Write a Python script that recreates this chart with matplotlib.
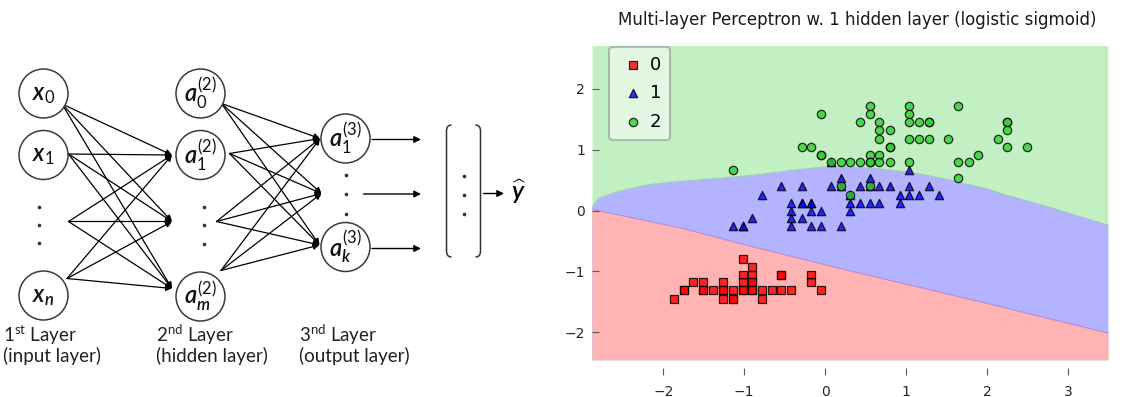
import numpy as np
import matplotlib

matplotlib.use("Agg")
import matplotlib.pyplot as plt
from matplotlib import font_manager as fm
from matplotlib.patches import Circle, PathPatch
from matplotlib.path import Path

W, H = 1126, 397


def pick_italic_family():
    """First humanist sans that actually ships an italic face."""
    for fam in ["Lato", "Open Sans", "Noto Sans", "Roboto", "Liberation Sans", "DejaVu Sans"]:
        try:
            path = fm.findfont(fm.FontProperties(family=fam, style="italic"),
                               fallback_to_default=False)
        except ValueError:
            continue
        name = path.lower()
        if "italic" in name or "oblique" in name:
            return fam
    return "DejaVu Sans"


ITALIC_FAMILY = pick_italic_family()
plt.rcParams["mathtext.fontset"] = "custom"
plt.rcParams["mathtext.it"] = f"{ITALIC_FAMILY}:italic:semibold"
plt.rcParams["mathtext.rm"] = "Lato"
plt.rcParams["mathtext.bf"] = "Lato:bold"

# --- decision-region data (standardised sepal length / petal width) ---
CLASS_LABELS = ["0", "1", "2"]

SETOSA_X = [-1.87, -1.75, -1.75, -1.63, -1.51, -1.51, -1.51, -1.39,
            -1.26, -1.26, -1.26, -1.26, -1.14, -1.14, -1.14,
            -1.02, -1.02, -1.02, -1.02, -1.02,
            -0.90, -0.90, -0.90, -0.90, -0.90, -0.90,
            -0.78, -0.78, -0.66, -0.54, -0.54, -0.54, -0.42, -0.17, -0.17, -0.05]
SETOSA_Y = [-1.45, -1.31, -1.31, -1.18, -1.18, -1.31, -1.31, -1.31,
            -1.18, -1.31, -1.31, -1.45, -1.31, -1.45, -1.45,
            -0.79, -1.05, -1.18, -1.31, -1.31,
            -0.92, -1.05, -1.18, -1.18, -1.31, -1.31,
            -1.31, -1.45, -1.31, -1.05, -1.05, -1.31, -1.31, -1.05, -1.18, -1.31]

VERSICOLOR_X = [-1.14, -1.02, -1.02, -0.90, -0.78, -0.54,
                -0.42, -0.42, -0.42, -0.42,
                -0.29, -0.29, -0.29, -0.29,
                -0.17, -0.17, -0.17, -0.17,
                -0.05, -0.05, 0.07, 0.07,
                0.19, 0.19, 0.19, 0.31, 0.31, 0.31,
                0.43, 0.43, 0.55, 0.55, 0.55, 0.67, 0.67,
                0.80, 0.92, 0.92, 1.04, 1.04, 1.04, 1.16, 1.28, 1.40]
VERSICOLOR_Y = [-0.26, -0.26, -0.26, -0.13, 0.26, 0.40,
                0.13, 0.00, -0.13, -0.26,
                0.40, 0.13, 0.13, -0.13,
                0.13, 0.13, 0.00, -0.26,
                0.00, -0.26, 0.40, 0.79,
                0.53, 0.40, -0.26, 0.26, 0.13, 0.00,
                0.40, 0.13, 0.53, 0.40, 0.13, 0.40, 0.13,
                0.40, 0.26, 0.13, 0.66, 0.40, 0.26, 0.26, 0.40, 0.26]

VIRGINICA_X = [-1.14, -0.29, -0.17, -0.05, -0.05, -0.05,
               0.07, 0.19, 0.19, 0.31, 0.31, 0.43, 0.43,
               0.55, 0.55, 0.55, 0.55, 0.55, 0.55,
               0.67, 0.67, 0.67, 0.67, 0.67,
               0.80, 0.80, 0.80, 0.80,
               1.04, 1.04, 1.04, 1.04, 1.04,
               1.16, 1.16, 1.28, 1.28, 1.28, 1.52,
               1.64, 1.64, 1.64, 1.77, 1.89, 2.13,
               2.25, 2.25, 2.25, 2.25, 2.49]
VIRGINICA_Y = [0.66, 1.05, 1.05, 1.58, 0.92, 0.92,
               0.79, 0.79, 0.40, 0.79, 0.26, 1.45, 0.79,
               1.71, 1.58, 0.92, 0.79, 0.79, 0.40,
               1.45, 1.32, 1.18, 0.92, 0.79,
               1.32, 1.05, 1.05, 0.79,
               1.71, 1.58, 1.45, 1.18, 0.79,
               1.45, 1.18, 1.45, 1.45, 1.18, 1.18,
               1.71, 0.79, 0.53, 0.79, 0.92, 1.18,
               1.45, 1.45, 1.32, 1.05, 1.05]

# class boundaries of the fitted MLP, sampled along x
RED_BLUE_X = [-2.88, -1.80, -0.97, 0.18, 1.83, 3.49]
RED_BLUE_Y = [0.02, -0.28, -0.57, -0.95, -1.47, -2.01]
BLUE_GREEN_X = [-2.88, -2.86, -2.83, -2.78, -2.70, -2.62, -2.45, -2.20, -1.95,
                -1.70, -1.30, -0.89, -0.47, -0.07, 0.25, 0.55, 0.80, 1.05,
                1.29, 1.58, 1.99, 2.24, 2.65, 3.02, 3.49]
BLUE_GREEN_Y = [0.03, 0.10, 0.15, 0.21, 0.25, 0.29, 0.35, 0.42, 0.46,
                0.49, 0.53, 0.58, 0.65, 0.71, 0.72, 0.70, 0.665, 0.625,
                0.57, 0.485, 0.36, 0.25, 0.10, -0.05, -0.24]
GRID_X = (-2.88, 3.49)
GRID_Y = (-2.45, 2.71)

X_TICKS = [-2, -1, 0, 1, 2, 3]
Y_TICKS = [-2, -1, 0, 1, 2]

# --- network diagram labels ---
INPUT_LABELS = [r"$\mathit{x_0}$", r"$\mathit{x_1}$", r"$\mathit{x_n}$"]
HIDDEN_LABELS = [r"$\mathit{a_0^{(2)}}$", r"$\mathit{a_1^{(2)}}$", r"$\mathit{a_m^{(2)}}$"]
OUTPUT_LABELS = [r"$\mathit{a_1^{(3)}}$", r"$\mathit{a_k^{(3)}}$"]
LAYER_TITLES = [
    (r"1$^{\rm st}$ Layer", "(input layer)"),
    (r"2$^{\rm nd}$ Layer", "(hidden layer)"),
    (r"3$^{\rm nd}$ Layer", "(output layer)"),
]


def arrow(ax, start, end, lw=0.9, scale=9):
    ax.annotate("", xy=end, xytext=start,
                arrowprops=dict(arrowstyle="-|>", color="black", lw=lw,
                                mutation_scale=scale, shrinkA=0, shrinkB=0))


def node(ax, xy, label, r=24.5):
    ax.add_patch(Circle(xy, r, facecolor="white", edgecolor="#3a3a3a", lw=1.1, zorder=3))
    ax.text(xy[0], xy[1], label, ha="center", va="center", fontsize=17,
            color="#111111", zorder=4)


def vdots(ax, x, ys):
    ax.plot([x] * len(ys), ys, "o", color="#333333", ms=1.6, zorder=4)


def bracket(ax, x_edge, x_tip, top, bottom, curl=6):
    verts = [(x_tip, top), (x_edge, top), (x_edge, top + curl),
             (x_edge, bottom - curl), (x_edge, bottom), (x_tip, bottom)]
    codes = [Path.MOVETO, Path.CURVE3, Path.CURVE3, Path.LINETO, Path.CURVE3, Path.CURVE3]
    ax.add_patch(PathPatch(Path(verts, codes), fill=False, edgecolor="#333333", lw=1.1))


def draw_network(ax):
    col_x = [43.5, 200.5, 345.5]
    input_y = [93.5, 155, 295.5]
    hidden_y = [93.5, 155, 296.5]
    output_y = [138.5, 247]

    # input -> hidden connections
    src1 = [(62, 104), (68.5, 154), (68.5, 221.5), (67, 278.5)]
    dst1 = [(172, 155), (172, 221.5), (172, 288.5)]
    for s in src1:
        for d in dst1:
            arrow(ax, s, d)
    # hidden -> output connections
    src2 = [(221.5, 103.5), (229.5, 153.5), (216.5, 221.5), (221, 270.5)]
    dst2 = [(320, 138.5), (321.5, 193.5), (319.5, 245)]
    for s in src2:
        for d in dst2:
            arrow(ax, s, d)

    for y, lab in zip(input_y, INPUT_LABELS):
        node(ax, (col_x[0], y), lab)
    for y, lab in zip(hidden_y, HIDDEN_LABELS):
        node(ax, (col_x[1], y), lab)
    for y, lab in zip(output_y, OUTPUT_LABELS):
        node(ax, (col_x[2], y), lab)

    vdots(ax, 38.5, [207, 225, 243])
    vdots(ax, 203.5, [207, 225, 243.5])
    vdots(ax, 346, [175, 194, 213.5])
    vdots(ax, 463.5, [176, 194.5, 213.5])

    arrow(ax, (372, 139.5), (421, 139.5), lw=1.0, scale=10)
    arrow(ax, (363.5, 194), (421, 194), lw=1.0, scale=10)
    arrow(ax, (372, 248.5), (421, 248.5), lw=1.0, scale=10)

    bracket(ax, 446.5, 451.5, 125, 257)
    bracket(ax, 480.5, 475.5, 125, 257)
    arrow(ax, (483.5, 193.5), (504, 193.5), lw=1.0, scale=10)
    ax.text(519, 192, r"$\widehat{y}$", ha="center", va="center", fontsize=18)

    for x, (first, second) in zip([3, 156, 299], LAYER_TITLES):
        ax.text(x, 335, first, ha="left", va="center", fontsize=13.5,
                family="Lato", color="#222222")
        ax.text(x, 356, second, ha="left", va="center", fontsize=13.5,
                family="Lato", color="#222222")


def draw_regions(ax):
    gx = np.linspace(GRID_X[0], GRID_X[1], 800)
    low = np.interp(gx, RED_BLUE_X, RED_BLUE_Y)
    high = np.interp(gx, BLUE_GREEN_X, BLUE_GREEN_Y)
    ax.fill_between(gx, GRID_Y[0], GRID_Y[1], color="#c2f0c2", lw=0, zorder=0)
    ax.fill_between(gx, GRID_Y[0], high, color="#b3b3ff", lw=0, zorder=0)
    ax.fill_between(gx, GRID_Y[0], low, color="#ffb3b3", lw=0, zorder=0)
    ax.plot(gx, high, color="#8cbbc1", lw=0.8, alpha=0.7, zorder=0.5)
    ax.plot(gx, low, color="#b27dca", lw=0.8, alpha=0.7, zorder=0.5)

    classes = [
        (SETOSA_X, SETOSA_Y, "red", "s"),
        (VERSICOLOR_X, VERSICOLOR_Y, "blue", "^"),
        (VIRGINICA_X, VIRGINICA_Y, "limegreen", "o"),
    ]
    for (xs, ys, color, marker), label in zip(classes, CLASS_LABELS):
        ax.scatter(xs, ys, c=color, marker=marker, s=36, alpha=0.8,
                   edgecolors="black", linewidths=0.9, label=label, zorder=2)


fig = plt.figure(figsize=(W / 100, H / 100), dpi=100)

net_ax = fig.add_axes([0, 0, 540 / W, 1])
net_ax.set_xlim(0, 540)
net_ax.set_ylim(H, 0)
net_ax.axis("off")
draw_network(net_ax)

ax = fig.add_axes([592 / W, (H - 375) / H, (1122 - 592) / W, (375 - 33) / H])
draw_regions(ax)
ax.set_xlim(-2.88, 3.665)
ax.set_ylim(-2.70, 2.915)
ax.set_xticks(X_TICKS)
ax.set_yticks(Y_TICKS)
for spine in ax.spines.values():
    spine.set_visible(False)
ax.tick_params(direction="in", length=5, width=0.8, color="0.35",
               labelsize=10, labelcolor="0.15")
ax.tick_params(axis="x", pad=7)
ax.tick_params(axis="y", pad=5)
ax.set_title("Multi-layer Perceptron w. 1 hidden layer (logistic sigmoid)",
             fontsize=12, color="0.1")

leg = ax.legend(loc="upper left", bbox_to_anchor=(17 / 530, (375 - 46.7) / 342),
                borderaxespad=0, fontsize=13, scatterpoints=1, handlelength=1.7,
                handletextpad=0.05, labelspacing=0.58, borderpad=0.5,
                fancybox=True, framealpha=0.55)
leg.get_frame().set_edgecolor("0.55")
leg.get_frame().set_linewidth(1.5)

fig.savefig("out.png", dpi=100)
